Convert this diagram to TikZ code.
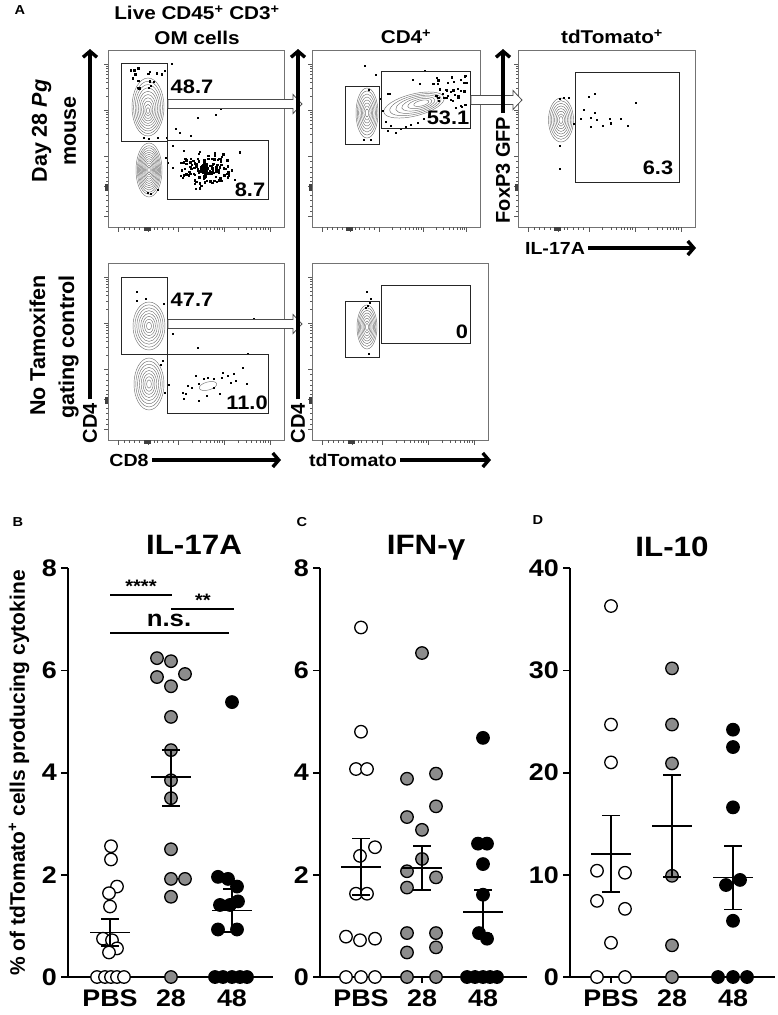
\documentclass[tikz,border=0pt]{standalone}
\usepackage{fontspec}
\setmainfont{Liberation Sans}[FakeStretch=1.12]
\newfontfamily\rotfont{Liberation Sans}
\usetikzlibrary{arrows.meta,positioning,calc}

\tikzset{
  plotbox/.style={draw=black!55, line width=0.8pt, inner sep=0pt, anchor=north west, minimum height=177pt},
  gate/.style={draw=black!85, line width=0.9pt, inner sep=0pt, anchor=north west},
  contour/.style={draw=black!55, line width=0.45pt},
  tk/.style={draw=black!65, line width=0.5pt},
  axarr/.style={line width=3.4pt, -{Straight Barb[length=6pt,width=14pt]}},
  blk/.style={draw=black!70, fill=white, line width=0.8pt},
  pct/.style={font=\fontsize{19.5}{19.5}\selectfont\bfseries, inner sep=0pt},
  coltl/.style={font=\fontsize{18.5}{25}\selectfont\bfseries, align=center},
  rowl/.style={font=\rotfont\fontsize{21.5}{29}\selectfont\bfseries, rotate=90},
  axlab/.style={font=\fontsize{17.5}{17.5}\selectfont\bfseries},
  axlabv/.style={font=\rotfont\fontsize{20}{20}\selectfont\bfseries, rotate=90},
  plet/.style={font=\fontsize{13}{13}\selectfont\bfseries},
  axline/.style={line width=1.8pt},
  ytl/.style={font=\fontsize{24}{24}\selectfont\bfseries},
  grp/.style={font=\fontsize{24}{24}\selectfont\bfseries},
  ttl/.style={font=\fontsize{28}{28}\selectfont\bfseries},
  ylab/.style={font=\rotfont\fontsize{21}{21}\selectfont\bfseries, rotate=90},
  sig/.style={line width=2.4pt},
  pbsdot/.style={circle, draw, line width=1.3pt, fill=white, minimum size=12.5pt, inner sep=0pt},
  d28dot/.style={pbsdot, fill=black!45},
  d48dot/.style={pbsdot, fill=black},
  semline/.style={line width=1.8pt},
}

% biexponential ticks on left and bottom of a plot box
\newcommand{\facsticks}[2]{%
  \foreach \f in {0.06,0.23,0.40,0.66,0.92}{%
    \draw[tk] ({\f*#1},#2) -- ++(0,4.5);
    \draw[tk] (0,{(1-\f)*#2}) -- ++(-4.5,0);}
  \foreach \d in {0.40,0.66}{\foreach \k in {2,...,9}{%
    \draw[tk] ({(\d+0.26*log10(\k))*#1},#2) -- ++(0,2.5);
    \draw[tk] (0,{(1-\d-0.26*log10(\k))*#2}) -- ++(-2.5,0);}}
  \foreach \f in {0.09,0.12,0.15,0.18,0.26,0.28,0.31,0.34,0.37}{%
    \draw[tk] ({\f*#1},#2) -- ++(0,2.5);
    \draw[tk] (0,{(1-\f)*#2}) -- ++(-2.5,0);}
  \fill[black!75] ({0.205*#1},#2) rectangle ({0.245*#1},{#2+3.5});
  \fill[black!75] (0,{0.755*#2}) rectangle (-3.5,{0.795*#2});
}

% open block arrow between gates
\newcommand{\gatearrow}[2]{%
  \draw[blk] let \p1=(#1), \p2=(#2) in
    (\x1,\y1+4.5pt) -- (\x2-9pt,\y1+4.5pt) -- (\x2-9pt,\y1+9.5pt) -- (\x2,\y1)
    -- (\x2-9pt,\y1-9.5pt) -- (\x2-9pt,\y1-4.5pt) -- (\x1,\y1-4.5pt) -- cycle;}

% mean and SEM bar
\newcommand{\meansem}[4]{%
  \draw[semline] ({#1-20},#2) -- ({#1+20},#2);
  \draw[semline] (#1,#3) -- (#1,#4);
  \draw[semline] ({#1-9},#3) -- ({#1+9},#3);
  \draw[semline] ({#1-9},#4) -- ({#1+9},#4);}

\begin{document}
\begin{tikzpicture}[x=1pt, y=-1pt]
\useasboundingbox (0,0) rectangle (777,1015);
\pgfmathsetseed{11}

% panel letters
\node[plet] (lA) at (20,10) {A};
\node[plet] (lB) at (18,522) {B};
\node[plet] (lC) at (302,522) {C};
\node[plet] (lD) at (538,520) {D};

% ---------- panel A ----------
\node[coltl] (cTL) at (197,25) {Live CD45\textsuperscript{+} CD3\textsuperscript{+}\\OM cells};
\node[coltl] (cTM) at (406,37) {CD4\textsuperscript{+}};
\node[coltl] (cTR) at (612,37) {tdTomato\textsuperscript{+}};
\node[rowl, align=center] (rTop) at (54,131) {Day 28 \textit{Pg}\\mouse};
\node[rowl, align=right] (rBot) at (54,347) {No Tamoxifen\\gating control};

% top left
\begin{scope}[shift={(108,50)}]
  \node[plotbox, minimum width=176pt] (pTL) at (0,0) {};
  \facsticks{176}{177}
  \foreach \s in {1.0,0.9,0.8,0.7,0.6,0.5,0.4,0.3,0.2,0.1}
    \draw[contour] (40,{57+4*(1-\s)}) ellipse ({16*\s} and {29*\s});
  \foreach \s in {1.0,0.9,0.82,0.74,0.66,0.58,0.5,0.42,0.34,0.26,0.18,0.1}
    \draw[contour] (41,120) ellipse ({13*\s} and {27*\s});
  \foreach \i in {1,...,16}
    \fill ({17+38*rnd},{15+32*rnd}) rectangle ++(2.4,2.4);
  \foreach \x/\y in {63/13,56/20,89/67,107/64,112/58,67/78,71/82,82/85,58/87,49/87,35/87,40/88,42/143,39/142,49/139,57/107,59/112,64/95,75/100}
    \fill (\x,\y) rectangle ++(2.4,2.4);
  \foreach \i in {1,...,150}
    \fill ({96+26*(rnd+rnd+rnd-1.5)},{120+15*(rnd+rnd+rnd-1.5)}) rectangle ++(2.4,2.4);
  \node[gate, minimum width=46pt, minimum height=78pt] (gTLcd4) at (13,13) {};
  \node[gate, minimum width=101pt, minimum height=59pt] (gTLcd8) at (59,90) {};
  \node[pct] (nTLcd4) at (84,37) {48.7};
  \node[pct] (nTLcd8) at (142,140) {8.7};
\end{scope}

% top middle
\begin{scope}[shift={(312,50)}]
  \node[plotbox, minimum width=168pt] (pTM) at (0,0) {};
  \facsticks{168}{177}
  \foreach \s in {1.0,0.88,0.76,0.64,0.52,0.4,0.28,0.16}
    \draw[contour] (55,63) ellipse ({11*\s} and {25*\s});
  \foreach \s in {1.0,0.85,0.7,0.55,0.4,0.25}
    \draw[contour, rotate around={14:(102,55)}] ({102+10*(1-\s)},55) ellipse ({31*\s} and {11*\s});
  \foreach \x/\y in {52/15,63/24,56/39,75/43,77/43,112/20,100/29,107/33,125/33,135/32,141/31,153/25,154/32,145/38,138/41,142/44,146/47,135/45,140/50,130/43,148/40,78/75,83/82,88/78,93/76,98/74,105/72,111/68,75/80,51/89,58/89,73/71,70/60,68/48}
    \fill (\x,\y) rectangle ++(2.4,2.4);
  \foreach \i in {1,...,25}
    \fill ({118+36*rnd},{24+34*rnd}) rectangle ++(2.4,2.4);
  \node[gate, minimum width=34pt, minimum height=58pt] (gTMl) at (33,36) {};
  \node[gate, minimum width=89pt, minimum height=57pt] (gTMr) at (69,21) {};
  \node[pct] (nTMr) at (136,68) {53.1};
\end{scope}

% top right
\begin{scope}[shift={(518,50)}]
  \node[plotbox, minimum width=177pt] (pTR) at (0,0) {};
  \facsticks{177}{177}
  \foreach \s in {1.0,0.88,0.76,0.64,0.52,0.4,0.28,0.16}
    \draw[contour] (43,70) ellipse ({12.5*\s} and {22*\s});
  \foreach \x/\y in {45/47,41/48,50/47,76/43,70/46,117/52,65/59,76/62,62/68,72/67,78/69,91/68,92/72,102/68,72/76,84/75,92/73,109/75,55/73,41/95,41/118}
    \fill (\x,\y) rectangle ++(2.4,2.4);
  \node[gate, minimum width=104pt, minimum height=110pt] (gTR) at (57,22) {};
  \node[pct] (nTR) at (140,118) {6.3};
\end{scope}

% bottom left
\begin{scope}[shift={(108,263)}]
  \node[plotbox, minimum width=176pt] (pBL) at (0,0) {};
  \facsticks{176}{177}
  \foreach \s in {1.0,0.88,0.76,0.64,0.52,0.4,0.28,0.16}
    \draw[contour] (41,63) ellipse ({16*\s} and {24*\s});
  \foreach \s in {1.0,0.88,0.76,0.64,0.52,0.4,0.28,0.16}
    \draw[contour] (41,121) ellipse ({15*\s} and {26*\s});
  \draw[contour, rotate around={15:(100,123)}] (100,123) ellipse (9 and 4);
  \foreach \x/\y in {28/28,28/37,37/35,55/40,64/70,89/84,145/55,139/90,54/97,52/101,60/121,56/129,75/135,77/130,79/122,87/112,90/120,95/115,99/114,105/115,114/109,113/114,119/112,125/110,134/104,138/120,74/129,83/124,90/137,98/132,105/124,111/130,122/119,127/117}
    \fill (\x,\y) rectangle ++(2.4,2.4);
  \node[gate, minimum width=46pt, minimum height=77pt] (gBLcd4) at (13,14) {};
  \node[gate, minimum width=101pt, minimum height=59pt] (gBLcd8) at (59,91) {};
  \node[pct] (nBLcd4) at (84,37) {47.7};
  \node[pct] (nBLcd8) at (139,140) {11.0};
\end{scope}

% bottom middle
\begin{scope}[shift={(312,263)}]
  \node[plotbox, minimum width=176pt] (pBM) at (0,0) {};
  \facsticks{176}{177}
  \foreach \s in {1.0,0.88,0.76,0.64,0.52,0.4,0.28,0.16}
    \draw[contour] (55,64) ellipse ({10*\s} and {22*\s});
  \foreach \x/\y in {54/28,58/35,57/39,55/42,53/44,56/90}
    \fill (\x,\y) rectangle ++(2.4,2.4);
  \node[gate, minimum width=34pt, minimum height=56pt] (gBMl) at (33,38) {};
  \node[gate, minimum width=89pt, minimum height=58pt] (gBMr) at (69,22) {};
  \node[pct] (nBMr) at (150,69) {0};
\end{scope}

% gating arrows
\coordinate (tipTL) at (302,104);
\coordinate (tipTM) at (522,100);
\coordinate (tipBL) at (302,324);
\gatearrow{gTLcd4.east |- tipTL}{tipTL}
\gatearrow{gTMr.east |- tipTM}{tipTM}
\gatearrow{gBLcd4.east |- tipBL}{tipBL}

% axis arrows
\node[axlabv] (yBL) at (90,423) {CD4};
\node[axlabv] (yBM) at (298,423) {CD4};
\node[axlabv] (yTR) at (503,170) {FoxP3 GFP};
\coordinate (yBLtip) at (90,49);
\coordinate (yBMtip) at (298,49);
\coordinate (yTRtip) at (503,49);
\draw[axarr] (yBL.east) -- (yBLtip);
\draw[axarr] (yBM.east) -- (yBMtip);
\draw[axarr] (yTR.east) -- (yTRtip);
\node[axlab] (xBL) at (129,460) {CD8};
\node[axlab] (xBM) at (353,460) {tdTomato};
\node[axlab] (xTR) at (555,248) {IL-17A};
\coordinate (xBLtip) at (281,460);
\coordinate (xBMtip) at (491,460);
\coordinate (xTRtip) at (696,248);
\draw[axarr] (xBL.east) -- (xBLtip);
\draw[axarr] (xBM.east) -- (xBMtip);
\draw[axarr] (xTR.east) -- (xTRtip);

% ---------- panels B, C, D ----------
\node[ylab] (yB) at (19,773) {\% of tdTomato\textsuperscript{+} cells producing cytokine};
\node[ttl] (tB) at (194,545) {IL-17A};
\node[ttl] (tC) at (426,548) {IFN-γ};
\node[ttl] (tD) at (672,547) {IL-10};

% B
\begin{scope}[shift={(68,977)}, y=51.1pt]
  \draw[axline] (0,8) -- (0,0) -- (205,0);
  \foreach \t in {0,2,4,6,8}
    \draw[axline] (0,\t) -- (-7,\t) node[ytl, left] {\t};
  \foreach \g in {42,103,164}
    \draw[axline] (\g,0) -- (\g,-0.12);
  \node[grp, yshift=-21pt] (bPBS) at (42,0) {PBS};
  \node[grp, yshift=-21pt] (b28) at (103,0) {28};
  \node[grp, yshift=-21pt] (b48) at (164,0) {48};
  \foreach \x/\v in {43/2.56,43/2.30,49/1.77,41/1.64,42/1.38,35/0.75,44/0.72,49/0.56,41/0.48,29/0,37/0,43/0,49/0,56/0}
    \node[pbsdot] at (\x,\v) {};
  \foreach \x/\v in {89/6.24,103/6.18,89/5.87,117/5.93,103/5.69,103/5.09,103/4.44,103/3.85,103/3.50,103/2.50,103/1.92,117/1.92,103/1.57,103/0}
    \node[d28dot] at (\x,\v) {};
  \foreach \x/\v in {164/5.38,150/1.96,160/1.92,169/1.77,152/1.41,162/1.41,170/1.48,150/0.93,169/0.93,147/0,155/0,164/0,172/0,179/0}
    \node[d48dot] at (\x,\v) {};
  \meansem{42}{0.87}{0.61}{1.13}
  \meansem{103}{3.92}{3.35}{4.45}
  \meansem{164}{1.30}{0.88}{1.72}
  \draw[sig] (42,7.48) -- (104,7.48);
  \draw[sig] (103,7.20) -- (166,7.20);
  \draw[sig] (42,6.73) -- (161,6.73);
  \node[font=\fontsize{18}{18}\selectfont\bfseries] (sig1) at (73,7.64) {****};
  \node[font=\fontsize{18}{18}\selectfont\bfseries] (sig2) at (135,7.37) {**};
  \node[font=\fontsize{23}{23}\selectfont\bfseries] (sig3) at (101,6.98) {n.s.};
\end{scope}

% C
\begin{scope}[shift={(320,977)}, y=51.1pt]
  \draw[axline] (0,8) -- (0,0) -- (207,0);
  \foreach \t in {0,2,4,6,8}
    \draw[axline] (0,\t) -- (-7,\t) node[ytl, left] {\t};
  \foreach \g in {41,102,163}
    \draw[axline] (\g,0) -- (\g,-0.12);
  \node[grp, yshift=-21pt] (cPBS) at (41,0) {PBS};
  \node[grp, yshift=-21pt] (c28) at (102,0) {28};
  \node[grp, yshift=-21pt] (c48) at (163,0) {48};
  \foreach \x/\v in {41/6.84,41/4.80,36/4.07,47/4.07,55/2.54,40/2.37,36/1.63,47/1.63,26/0.79,40/0.72,55/0.75,26/0,41/0,55/0}
    \node[pbsdot] at (\x,\v) {};
  \foreach \x/\v in {102/6.34,116/3.98,87/3.88,116/3.34,87/3.13,102/2.88,102/2.31,87/2.07,116/1.95,87/1.75,87/0.86,116/0.86,87/0.48,116/0.58,87/0,116/0}
    \node[d28dot] at (\x,\v) {};
  \foreach \x/\v in {163/4.68,158/2.61,167/2.61,163/2.21,163/1.61,159/0.86,167/0.75,147/0,155/0,163/0,170/0,177/0}
    \node[d48dot] at (\x,\v) {};
  \meansem{41}{2.16}{1.61}{2.71}
  \meansem{102}{2.14}{1.71}{2.57}
  \meansem{163}{1.27}{0.85}{1.71}
\end{scope}

% D
\begin{scope}[shift={(570,977)}, y=10.22pt]
  \draw[axline] (0,40) -- (0,0) -- (205,0);
  \foreach \t in {0,10,20,30,40}
    \draw[axline] (0,\t) -- (-7,\t) node[ytl, left] {\t};
  \foreach \g in {41,102,163}
    \draw[axline] (\g,0) -- (\g,-0.6);
  \node[grp, yshift=-21pt] (dPBS) at (41,0) {PBS};
  \node[grp, yshift=-21pt] (d28) at (102,0) {28};
  \node[grp, yshift=-21pt] (d48) at (163,0) {48};
  \foreach \x/\v in {41/36.3,41/24.7,41/21.0,27/10.4,55/10.2,27/7.45,55/6.67,41/3.35,27/0,55/0}
    \node[pbsdot] at (\x,\v) {};
  \foreach \x/\v in {102/30.2,102/24.7,102/20.9,102/9.9,102/3.1,102/0}
    \node[d28dot] at (\x,\v) {};
  \foreach \x/\v in {163/24.2,163/22.5,163/16.6,156/9.0,170/9.5,163/5.5,148/0,163/0,177/0}
    \node[d48dot] at (\x,\v) {};
  \meansem{41}{12.0}{8.3}{15.8}
  \meansem{102}{14.8}{9.8}{19.8}
  \meansem{163}{9.74}{6.6}{12.8}
\end{scope}
\end{tikzpicture}
\end{document}
